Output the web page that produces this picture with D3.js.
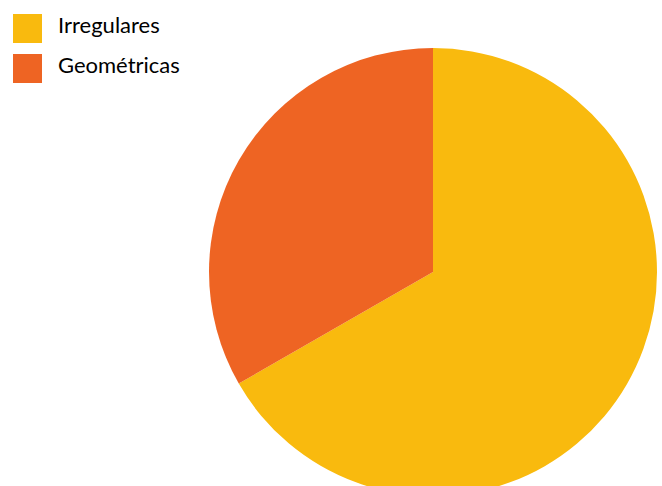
<!DOCTYPE html>
<html><head><meta charset="utf-8">
<script src="https://cdn.jsdelivr.net/npm/d3@7"></script>
<style>html,body{margin:0;padding:0;background:#fff;overflow:hidden}</style>
</head><body>
<svg id="c" width="662" height="486"></svg>
<script>
const categories = ["Irregulares", "Geométricas"];
const values = [66.7, 33.3];
const colors = ["#F9BA0E", "#EE6423"];

const svg = d3.select("#c");
const cx = 433, cy = 272, r = 224;
const pie = d3.pie().sort(null).value(d => d)(values);
const arc = d3.arc().innerRadius(0).outerRadius(r);
const color = d3.scaleOrdinal().domain(categories).range(colors);

svg.append("g").attr("transform", `translate(${cx},${cy})`)
  .selectAll("path").data(pie).enter().append("path")
  .attr("d", arc)
  .attr("fill", (d, i) => color(categories[i]));

const leg = svg.append("g");
const y = d3.scaleBand().domain(categories).range([14, 83]).paddingInner(0.275);
categories.forEach(c => {
  leg.append("rect").attr("x", 13).attr("y", y(c)).attr("width", 29).attr("height", 29).attr("fill", color(c));
  leg.append("text").attr("x", 58).attr("y", y(c) + 19).text(c)
    .attr("font-family", "Lato, 'Open Sans', sans-serif").attr("font-size", 22).attr("fill", "#000");
});
</script>
</body></html>
